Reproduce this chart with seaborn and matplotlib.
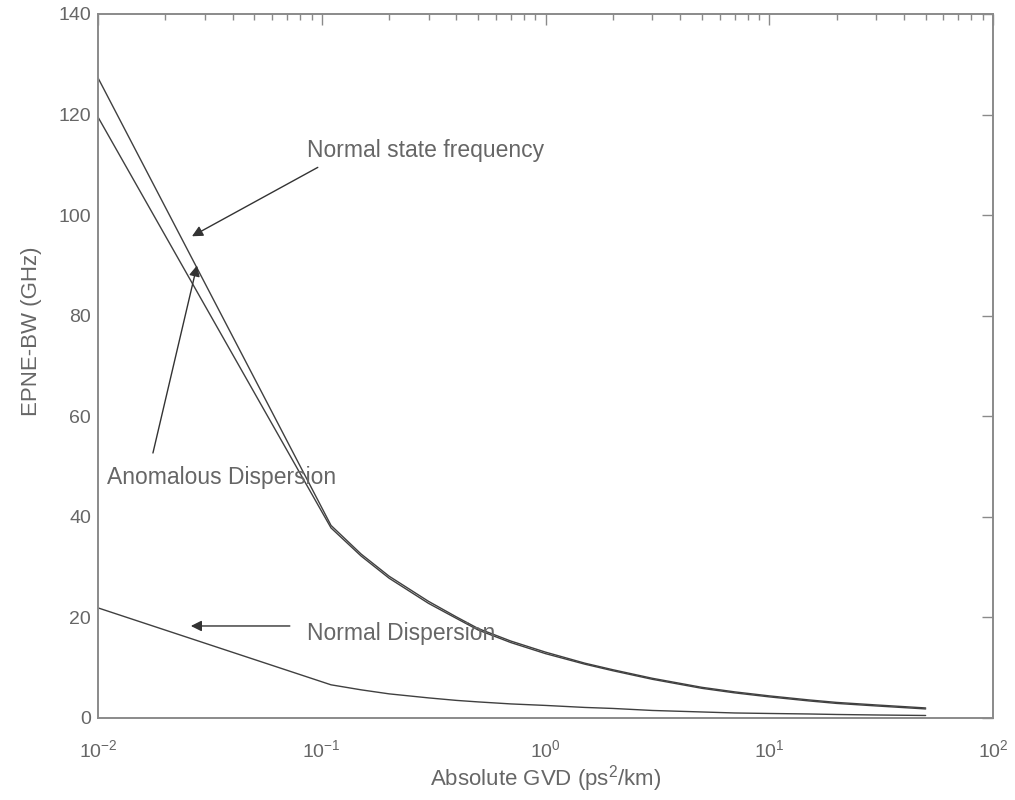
import numpy as np
import pandas as pd
import matplotlib
matplotlib.use("Agg")
import matplotlib.pyplot as plt
import seaborn as sns
from matplotlib.ticker import LogLocator, LogFormatterSciNotation, FixedLocator

# ---- data ----
gvd = [0.01, 0.11, 0.15, 0.2, 0.3, 0.4, 0.5, 0.7, 1.0, 1.5, 2.0, 3.0, 5.0, 7.0,
       10.0, 15.0, 20.0, 30.0, 50.0]
normal_state = [127.3, 38.3, 32.6, 28.2, 23.2, 20.1, 17.8, 15.3, 13.1, 10.9, 9.6,
                7.9, 6.1, 5.2, 4.4, 3.6, 3.1, 2.6, 2.0]
anomalous = [119.5, 37.8, 32.2, 27.8, 22.8, 19.8, 17.5, 15.0, 12.8, 10.7, 9.4,
             7.7, 5.9, 5.0, 4.2, 3.4, 2.9, 2.4, 1.8]
normal_disp = [21.9, 6.6, 5.6, 4.8, 4.0, 3.5, 3.2, 2.8, 2.5, 2.1, 1.9,
               1.5, 1.2, 1.0, 0.9, 0.8, 0.7, 0.6, 0.5]

y_ticks = [0, 20, 40, 60, 80, 100, 120, 140]
x_major = [1e-2, 1e-1, 1e0, 1e1, 1e2]

df = pd.concat([
    pd.DataFrame({"GVD": gvd, "BW": normal_state, "series": "Normal state frequency"}),
    pd.DataFrame({"GVD": gvd, "BW": anomalous, "series": "Anomalous Dispersion"}),
    pd.DataFrame({"GVD": gvd, "BW": normal_disp, "series": "Normal Dispersion"}),
])

sns.set_theme(style="white")
plt.rcParams["font.family"] = ["Liberation Sans", "DejaVu Sans"]
plt.rcParams["mathtext.fontset"] = "custom"
plt.rcParams["mathtext.rm"] = "Liberation Sans"
plt.rcParams["mathtext.it"] = "Liberation Sans"
plt.rcParams["mathtext.bf"] = "Liberation Sans"

txt = "#666666"
axc = "#8a8a8a"
linec = "#404040"

fig = plt.figure(figsize=(10.15, 8.0), dpi=100)
ax = fig.add_axes([98 / 1015, 1 - 718 / 800, (993 - 98) / 1015, (718 - 14) / 800])

sns.lineplot(data=df, x="GVD", y="BW", hue="series", units="series",
             estimator=None, sort=False, legend=False,
             palette={"Normal state frequency": linec,
                      "Anomalous Dispersion": linec,
                      "Normal Dispersion": linec},
             linewidth=1.0, ax=ax)

ax.set_xscale("log")
ax.set_xlim(1e-2, 1e2)
ax.set_ylim(0, 140)
ax.xaxis.set_major_locator(FixedLocator(x_major))
ax.xaxis.set_minor_locator(LogLocator(base=10, subs=np.arange(2, 10), numticks=20))
ax.xaxis.set_major_formatter(LogFormatterSciNotation())
ax.set_yticks(y_ticks)

for s in ax.spines.values():
    s.set_visible(True)
    s.set_color(axc)
    s.set_linewidth(1.4)

ax.tick_params(axis="both", which="both", direction="in", top=True, right=True,
               color=axc, labelcolor=txt)
ax.tick_params(axis="both", which="major", length=8, width=1.0, labelsize=14)
ax.tick_params(axis="both", which="minor", length=4, width=1.0)
ax.tick_params(axis="x", which="major", pad=15)
ax.tick_params(axis="y", which="major", pad=5)

ax.set_xlabel(r"Absolute GVD (ps$^{2}$/km)", fontsize=16, color=txt, labelpad=2)
ax.set_ylabel("EPNE-BW (GHz)", fontsize=16, color=txt)
ax.yaxis.set_label_coords(-0.063, 0.55)

arrow = dict(arrowstyle="-|>", color="#333333", lw=1.0, mutation_scale=16,
             shrinkA=0, shrinkB=0)
ax.annotate("", xy=(0.0263, 95.8), xytext=(0.096, 109.5), arrowprops=arrow)
ax.text(0.086, 112.9, "Normal state frequency", fontsize=16.5, color=txt,
        ha="left", va="center")
ax.annotate("", xy=(0.0277, 90), xytext=(0.0176, 52.7), arrowprops=arrow)
ax.text(0.0110, 47.9, "Anomalous Dispersion", fontsize=16.5, color=txt,
        ha="left", va="center")
ax.annotate("", xy=(0.026, 18.3), xytext=(0.072, 18.3), arrowprops=arrow)
ax.text(0.086, 16.9, "Normal Dispersion", fontsize=16.5, color=txt,
        ha="left", va="center")

fig.savefig("out.png", dpi=100, facecolor="white")
